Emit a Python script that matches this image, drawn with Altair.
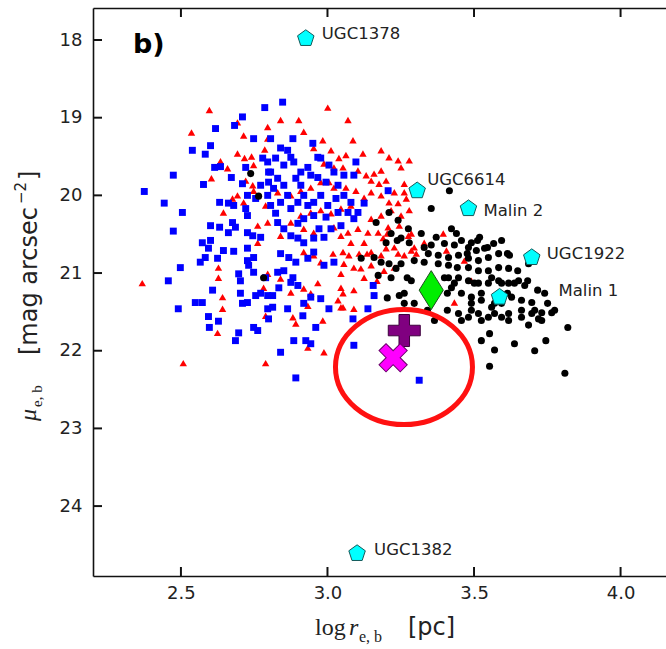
import altair as alt
import pandas as pd

# ---------------- data ----------------
blue_x = [2.786,2.710,2.618,2.683,2.748,2.601,2.539,2.583,2.615,2.635,2.721,2.672,2.474,2.577,2.375,2.443,2.505,2.632,2.662,2.680,
          2.710,2.727,2.721,2.727,2.755,2.474,2.601,2.632,2.676,2.686,2.662,2.727,2.745,2.573,2.601,2.772,2.796,2.799,2.799,2.796,
          2.779,2.772,
          2.847,2.882,2.950,2.967,2.977,2.840,2.864,2.823,2.875,2.851,2.885,2.806,2.933,2.909,2.943,2.967,3.005,3.022,2.995,3.036,
          3.056,3.090,3.097,2.806,2.830,2.816,2.851,2.864,2.840,2.806,2.823,2.875,2.899,2.919,2.909,2.892,2.933,2.953,2.977,3.001,
          3.029,3.056,3.080,3.070,3.104,3.036,2.995,2.953,2.919,2.899,2.851,2.830,2.875,2.899,2.919,2.953,2.988,2.971,3.012,3.046,
          3.090,3.125,3.207,
          2.594,2.645,2.680,2.727,2.566,2.583,2.625,2.498,2.457,2.697,2.703,2.731,2.727,2.748,2.608,2.573,2.549,2.491,2.703,2.710,
          2.727,2.755,2.772,2.796,2.796,2.799,2.594,2.628,2.597,2.697,2.686,2.748,2.762,2.789,2.748,
          2.840,2.868,2.892,2.933,2.953,2.988,3.022,2.830,2.851,2.882,2.899,2.834,2.875,2.943,2.919,2.977,2.813,2.813,2.864,2.916,
          3.005,3.138,3.087,2.960,2.885,2.926,2.943,2.840,2.892,3.090,3.156,3.159,3.313]
blue_y = [18.87,18.99,19.14,19.10,19.27,19.36,19.42,19.47,19.64,19.63,19.64,19.77,19.74,19.86,19.95,20.10,20.22,20.09,20.10,20.13,
          19.85,20.00,20.17,20.26,20.04,20.46,20.39,20.41,20.35,20.41,20.48,20.48,20.52,20.61,20.58,20.54,20.00,19.83,19.70,19.57,
          19.52,19.87,
          18.80,19.27,19.33,19.51,19.52,19.39,19.42,19.52,19.51,19.61,19.57,19.27,19.64,19.70,19.74,19.77,19.61,19.70,19.83,19.87,
          19.74,19.74,19.57,19.70,19.78,19.91,19.87,20.00,20.09,20.13,20.23,20.17,20.09,20.00,19.87,19.78,20.13,20.09,20.00,20.13,
          20.04,20.00,20.09,20.22,20.22,20.22,20.28,20.26,20.30,20.36,20.43,20.35,20.52,20.55,20.61,20.55,20.54,20.43,20.43,20.39,
          20.30,20.10,19.94,
          20.68,20.71,20.72,20.68,20.86,20.80,20.81,20.93,21.10,21.01,21.10,20.90,20.84,20.80,21.22,21.38,21.38,21.46,21.26,21.39,
          21.38,21.29,21.26,21.29,21.46,21.59,21.56,21.62,21.70,21.77,21.87,21.70,21.74,21.06,20.99,
          20.75,20.80,20.86,20.81,20.73,20.90,20.86,20.99,20.97,21.06,21.16,21.19,21.12,21.31,21.39,21.33,21.29,21.44,21.46,21.55,
          21.46,21.46,21.59,21.70,21.87,21.87,21.91,22.02,22.35,21.93,21.16,21.29,22.38]

red_x = [2.597,2.536,2.714,2.693,2.796,2.635,2.659,2.693,2.717,2.741,2.748,2.786,2.796,2.604,2.721,2.745,2.748,2.693,2.676,2.645,
         2.714,2.789,2.762,2.796,2.762,
         3.001,2.840,2.902,2.919,3.070,2.984,2.953,3.012,3.087,3.063,3.039,3.121,3.183,3.210,3.241,3.279,3.251,2.988,3.022,3.053,
         3.104,3.132,3.159,3.183,3.149,3.176,3.200,3.262,3.228,3.262,3.269,3.241,3.210,3.183,3.149,3.125,3.097,3.063,3.022,3.005,
         2.977,2.943,2.909,2.875,2.830,3.080,3.046,3.012,2.977,2.943,2.909,2.875,2.840,2.919,2.953,3.022,3.046,3.070,3.104,3.138,
         3.173,3.207,3.149,3.183,3.217,3.251,3.279,3.245,3.276,3.190,3.125,3.080,
         3.286,3.296,3.228,3.204,3.303,3.228,3.169,3.125,3.090,3.135,3.046,3.046,3.090,3.046,
         2.919,2.953,3.019,3.053,3.073,3.108,3.149,3.200,3.241,2.977,3.056,3.114,3.149,3.193,2.840,2.875,2.919,2.967,2.943,3.053,
         3.036,3.053,3.090,2.933,2.882,2.892,2.984,2.988,3.183,3.262,3.286,
         2.368,2.628,2.628,2.642,2.642,2.625,2.508,2.789,2.782,2.789,2.796,
         3.395,3.406,3.467,3.491,3.433,3.330,2.933]
red_y = [18.90,19.19,19.23,19.06,19.12,19.56,19.65,19.46,19.52,19.50,19.61,19.41,19.27,19.78,19.81,19.87,19.94,20.00,20.04,20.22,
         20.09,20.13,20.39,20.35,20.61,
         18.87,19.03,19.03,19.18,19.03,19.29,19.39,19.42,19.29,19.48,19.52,19.46,19.42,19.51,19.55,19.55,19.64,19.59,19.64,19.64,
         19.68,19.74,19.72,19.68,19.81,19.85,19.81,19.85,19.96,19.96,20.04,20.10,20.09,20.00,19.96,20.03,19.94,19.90,19.90,19.83,
         19.83,19.90,19.94,20.00,19.96,20.13,20.17,20.23,20.19,20.22,20.26,20.35,20.52,20.43,20.48,20.41,20.52,20.48,20.43,20.48,
         20.48,20.41,20.30,20.26,20.19,20.26,20.19,20.39,20.52,20.55,20.61,20.61,
         20.49,20.67,20.67,20.49,20.75,20.93,21.10,21.06,20.93,20.75,21.01,21.19,21.22,21.44,
         20.73,20.77,20.75,20.73,20.77,20.75,20.73,20.68,20.75,20.86,20.88,20.94,20.90,20.97,21.07,21.25,21.20,21.13,21.26,21.26,
         21.35,21.44,21.46,21.42,21.57,21.65,21.61,22.02,20.77,20.77,20.71,
         21.13,20.93,21.06,21.31,21.46,21.77,22.16,22.16,21.19,21.55,21.01,
         20.49,20.71,20.84,21.10,21.38,20.61,21.96]

black_x = [2.738,2.765,2.782,3.210,3.166,3.241,3.276,3.251,3.200,3.279,3.416,3.354,3.423,3.217,3.238,3.320,3.330,3.296,3.251,3.159,
           3.217,3.272,3.204,3.262,3.296,3.341,3.365,3.409,3.409,3.433,3.399,3.443,3.477,3.512,3.546,3.594,3.614,3.649,3.683,3.717,
           3.741,3.751,3.775,3.707,3.662,3.614,3.570,3.525,3.501,3.560,3.594,3.638,3.491,3.457,3.525,3.594,3.662,3.731,3.820,3.440,
           3.371,3.457,3.491,3.519,3.567,3.536,3.508,3.481,3.433,3.399,3.354,3.344,3.378,3.413,3.447,3.481,3.515,3.549,3.584,3.621,
           3.618,3.584,3.549,3.515,3.481,3.413,3.378,3.330,3.686,3.652,3.673,3.697,3.628,3.594,3.560,3.525,3.491,3.457,3.423,3.413,
           3.447,3.481,3.515,3.549,3.584,3.618,3.447,3.481,3.515,3.549,3.618,3.662,3.697,3.731,3.765,3.570,3.618,3.686,3.720,3.525,
           3.570,3.553,3.638,3.707,3.745,3.553,3.810,3.491,3.115,3.183,3.210,3.234,3.173,3.245,3.286,3.262]
black_y = [19.72,20.01,21.06,20.22,20.35,20.32,20.43,20.55,20.61,20.61,19.94,20.17,20.43,20.49,20.58,20.49,20.67,20.84,20.88,20.80,
           21.06,21.06,21.32,21.26,21.39,21.48,21.61,21.48,21.26,21.13,21.06,20.93,20.75,20.58,20.67,20.58,20.75,20.97,21.10,21.22,
           21.26,21.39,21.48,21.48,21.35,21.26,21.39,21.26,21.13,21.06,21.13,21.13,21.48,21.61,21.61,21.57,21.57,21.61,21.70,20.49,
           20.54,20.58,20.61,20.54,20.62,20.68,20.71,20.67,20.64,20.62,20.64,20.75,20.77,20.80,20.77,20.81,20.84,20.80,20.75,20.77,
           20.94,20.93,20.97,20.97,20.93,20.90,20.88,20.86,20.88,21.10,21.16,21.38,21.31,21.39,21.44,21.35,21.31,21.26,21.19,21.06,
           21.06,21.10,21.13,21.13,21.10,21.13,21.52,21.57,21.52,21.57,21.52,21.48,21.52,21.51,21.51,21.52,21.61,21.67,21.59,21.87,
           21.99,21.78,21.91,22.00,21.87,22.20,22.29,21.39,20.81,20.86,20.88,20.94,21.03,21.29,21.10,21.39]

named_names = ["UGC1378", "UGC6614", "Malin 2", "UGC1922", "Malin 1", "UGC1382"]
named_x = [2.926, 3.306, 3.481, 3.697, 3.587, 3.101]
named_y = [17.98, 19.94, 20.17, 20.80, 21.31, 24.61]

diamond_x, diamond_y = [3.354], [21.22]
plus_x, plus_y = [3.262], [21.74]
cross_x, cross_y = [3.224], [22.09]
ellipse_x, ellipse_y = [3.261], [22.21]

x_ticks = [2.5, 3.0, 3.5, 4.0]
y_ticks = [18, 19, 20, 21, 22, 23, 24]

# ---------------- layout ----------------
W, H = 573, 568
TICK = 9
X_DOM = [2.2, 4.155]
Y_DOM = [17.588, 24.9]
xs = alt.Scale(domain=X_DOM, nice=False, zero=False)
ys = alt.Scale(domain=Y_DOM, nice=False, zero=False, reverse=True)

AX = dict(grid=False, title=None, domainColor="#111111", tickColor="#111111",
          labelColor="#222222", labelFont="DejaVu Sans", labelFontSize=18)

x_label_axis = alt.Axis(orient="bottom", values=x_ticks, format=".1f", ticks=False, domain=True,
                        domainWidth=1.6, labelPadding=8, **AX)
y_label_axis = alt.Axis(orient="left", values=y_ticks, format="d", ticks=False, domain=True,
                        domainWidth=1.6, labelPadding=11, **AX)
x_top_spine = alt.Axis(orient="bottom", offset=-H, values=x_ticks, labels=False, domain=True,
                       domainWidth=1.6, ticks=False, **AX)


def pos(xaxis=None, yaxis=None):
    return dict(x=alt.X("x:Q", scale=xs, axis=xaxis), y=alt.Y("y:Q", scale=ys, axis=yaxis))


red_df = pd.DataFrame({"x": red_x, "y": red_y})
blue_df = pd.DataFrame({"x": blue_x, "y": blue_y})
black_df = pd.DataFrame({"x": black_x, "y": black_y})
named_df = pd.DataFrame({"x": named_x, "y": named_y, "name": named_names})
# tick positions along each frame edge (edge value = scale domain end)
tick_bottom_df = pd.DataFrame({"x": x_ticks, "y": [Y_DOM[1]] * len(x_ticks)})
tick_top_df = pd.DataFrame({"x": x_ticks, "y": [Y_DOM[0]] * len(x_ticks)})
tick_left_df = pd.DataFrame({"x": [X_DOM[0]] * len(y_ticks), "y": y_ticks})

PENT = "M0,-1L0.951,-0.309L0.588,0.809L-0.588,0.809L-0.951,-0.309Z"
DIAM = "M0,-1L0.62,0L0,1L-0.62,0Z"
PLUS = ("M-0.33,-1L0.33,-1L0.33,-0.33L1,-0.33L1,0.33L0.33,0.33L0.33,1L-0.33,1"
        "L-0.33,0.33L-1,0.33L-1,-0.33L-0.33,-0.33Z")
ELL = ("M1,0C1,0.464 0.5523,0.84 0,0.84C-0.5523,0.84 -1,0.464 -1,0"
       "C-1,-0.464 -0.5523,-0.84 0,-0.84C0.5523,-0.84 1,-0.464 1,0Z")
# bottom tick: bar going up from the anchor; top tick: going down; left tick: going right
SEG_UP = "M-0.22,0L0.22,0L0.22,-2L-0.22,-2Z"
SEG_DOWN = "M-0.22,0L0.22,0L0.22,2L-0.22,2Z"
SEG_RIGHT = "M0,-0.22L2,-0.22L2,0.22L0,0.22Z"

red = alt.Chart(red_df).mark_point(shape="triangle-up", filled=True, size=55, color="#ff0000",
                                   opacity=1).encode(**pos(x_label_axis, y_label_axis))
blue = alt.Chart(blue_df).mark_point(shape="square", filled=True, size=48, color="#0000ff",
                                     opacity=1).encode(**pos())
black = alt.Chart(black_df).mark_point(shape="circle", filled=True, size=50, color="#000000",
                                       opacity=1).encode(**pos(x_top_spine, None))

# inward ticks: one shape unit = sqrt(size)/2 = TICK/2, so the bar is TICK px long
tick_kw = dict(filled=True, size=TICK * TICK, color="#111111", opacity=1, strokeWidth=0)
ticks_bottom = alt.Chart(tick_bottom_df).mark_point(shape=SEG_UP, **tick_kw).encode(**pos())
ticks_top = alt.Chart(tick_top_df).mark_point(shape=SEG_DOWN, **tick_kw).encode(**pos())
ticks_left = alt.Chart(tick_left_df).mark_point(shape=SEG_RIGHT, **tick_kw).encode(**pos())

pent = alt.Chart(named_df).mark_point(shape=PENT, filled=True, size=300, color="#00ffff",
                                      stroke="#145a5a", strokeWidth=1, opacity=1).encode(**pos())

label_offsets = {"UGC1378": (16, -4), "UGC6614": (10, -11), "Malin 2": (15, 2),
                 "UGC1922": (15, -4), "Malin 1": (59, -6), "UGC1382": (17, -3)}
label_layers = []
for nm in named_names:
    ddx, ddy = label_offsets[nm]
    label_layers.append(
        alt.Chart(named_df[named_df["name"] == nm]).mark_text(
            align="left", baseline="middle", dx=ddx, dy=ddy, font="DejaVu Sans",
            fontSize=16.5, color="#222222"
        ).encode(text="name:N", **pos())
    )

diamond = alt.Chart(pd.DataFrame({"x": diamond_x, "y": diamond_y})).mark_point(
    shape=DIAM, filled=True, size=1521, color="#00ee00", stroke="#1d4d1d", strokeWidth=1, opacity=1
).encode(**pos())
plus = alt.Chart(pd.DataFrame({"x": plus_x, "y": plus_y})).mark_point(
    shape=PLUS, filled=True, size=1024, color="#800080", stroke="#3d003d", strokeWidth=1, opacity=1
).encode(**pos())
cross = alt.Chart(pd.DataFrame({"x": cross_x, "y": cross_y})).mark_point(
    shape=PLUS, angle=45, filled=True, size=900, color="#ff00ff", stroke="#6a006a", strokeWidth=1, opacity=1
).encode(**pos())
ellipse = alt.Chart(pd.DataFrame({"x": ellipse_x, "y": ellipse_y})).mark_point(
    shape=ELL, filled=False, size=18769, color="#ff1111", strokeWidth=5, opacity=1
).encode(**pos())


def txt(t, px, py, **kw):
    return alt.Chart(pd.DataFrame({"t": [t]})).mark_text(**kw).encode(
        x=alt.value(px), y=alt.value(py), text="t:N")


SERIF = "Liberation Serif"
SANS = "DejaVu Sans"
titles = [
    txt("b)", 40, 45, align="left", baseline="alphabetic", font=SANS, fontSize=27,
        fontWeight="bold", color="#000000"),
    # x-axis title: log r_{e,b} [pc]
    txt("log", 222, 627, align="left", baseline="alphabetic", font=SERIF, fontSize=24, color="#222222"),
    txt("r", 256, 627, align="left", baseline="alphabetic", font=SERIF, fontSize=24,
        fontStyle="italic", color="#222222"),
    txt("e, b", 266, 634, align="left", baseline="alphabetic", font=SERIF, fontSize=16, color="#222222"),
    txt("[pc]", 315, 627, align="left", baseline="alphabetic", font=SANS, fontSize=24, color="#222222"),
    # y-axis title: mu_{e,b} [mag arcsec^-2]
    txt("μ", -57, 413, align="left", baseline="alphabetic", angle=270, font=SERIF, fontSize=24,
        fontStyle="italic", color="#222222"),
    txt("e, b", -51, 399, align="left", baseline="alphabetic", angle=270, font=SERIF, fontSize=15,
        color="#222222"),
    txt("[mag arcsec", -56, 347, align="left", baseline="alphabetic", angle=270, font=SANS,
        fontSize=24, color="#222222"),
    txt("−2", -67, 196, align="left", baseline="alphabetic", angle=270, font=SANS, fontSize=15,
        color="#222222"),
    txt("]", -56, 172, align="left", baseline="alphabetic", angle=270, font=SANS, fontSize=24,
        color="#222222"),
]

chart = alt.layer(
    red, blue, black, pent, *label_layers,
    diamond, plus, cross, ellipse, *titles, ticks_bottom, ticks_top, ticks_left
).resolve_axis(
    x="independent", y="independent"
).properties(
    width=W, height=H,
    padding={"left": 93, "top": 8, "right": 0, "bottom": 73},
    autosize=alt.AutoSizeParams(type="none"),
    background="white",
).configure_view(stroke=None)

chart.save("out.html", embed_options={"renderer": "svg", "actions": False})
